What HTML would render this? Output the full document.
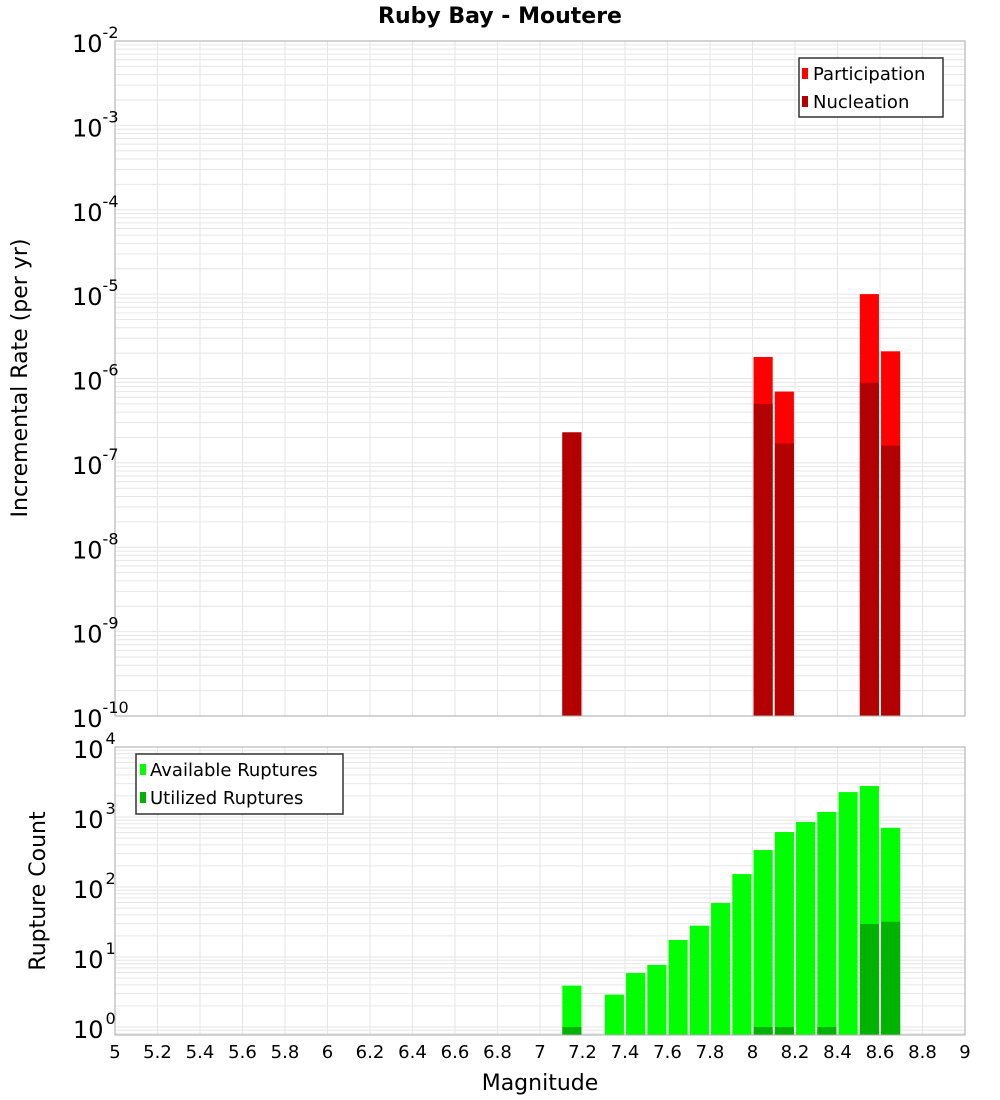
<!DOCTYPE html>
<html><head><meta charset="utf-8"><style>
body{margin:0;background:#fff;}
svg{display:block;font-family:"DejaVu Sans","Liberation Sans",sans-serif;}
</style></head><body>
<svg id="chart" width="1000" height="1100"></svg>
<script>
const magCenters=[7.15,8.05,8.15,8.55,8.65];
const participation=[2.3e-7,1.8e-6,7e-7,1.0e-5,2.1e-6];
const nucleation=[2.3e-7,5e-7,1.7e-7,8.9e-7,1.6e-7];
const countMags=[7.15,7.35,7.45,7.55,7.65,7.75,7.85,7.95,8.05,8.15,8.25,8.35,8.45,8.55,8.65];
const available=[3.9,2.9,5.9,7.7,17.5,28,59,153,337,610,850,1180,2270,2770,700];
const utilized=[1,0,0,0,0,0,0,0,1,1,0,1,0,29.6,32];
const xTicks=[5,5.2,5.4,5.6,5.8,6,6.2,6.4,6.6,6.8,7,7.2,7.4,7.6,7.8,8,8.2,8.4,8.6,8.8,9];
const topExp=[-10,-9,-8,-7,-6,-5,-4,-3,-2];
const botExp=[0,1,2,3,4];

const NS="http://www.w3.org/2000/svg";
const svg=document.getElementById('chart');
function mk(tag,attrs,parent,text){const e=document.createElementNS(NS,tag);for(const k in attrs)e.setAttribute(k,attrs[k]);if(text!==undefined)e.textContent=text;(parent||svg).appendChild(e);return e;}
const X0=115,X1=965;
const xs=m=>X0+(m-5)/4*(X1-X0);
const T0=41,T1=716;
const yTop=v=>T0+(-2-Math.log10(v))*(T1-T0)/8;
const B0=747,B1=1035,BD=70;
const yBot=v=>B0+(4-Math.log10(v))*BD;
const BW=0.09;

function grid(top,bot,yfun,lo,hi,g){
  for(const t of xTicks){const l=mk('line',{x1:xs(t),x2:xs(t),y1:top,y2:bot,stroke:'#e6e6e6','stroke-width':1},g);}
  for(let e=lo;e<hi;e++){for(let k=1;k<10;k++){const y=yfun(k*Math.pow(10,e));if(y<top-0.5||y>bot+0.5)continue;mk('line',{x1:X0,x2:X1,y1:y,y2:y,stroke:'#e6e6e6','stroke-width':1},g);}}
}
// title
const title=mk('text',{x:500,y:23,'text-anchor':'middle','font-size':22,'font-weight':'bold'},svg,'Ruby Bay - Moutere');


// top plot
const gTop=mk('g',{});

grid(T0,T1,yTop,-10,-2,gTop);
magCenters.forEach((m,i)=>{
  const x=xs(m-BW/2),w=xs(m+BW/2)-x;
  const p=mk('rect',{x:x,y:yTop(participation[i]),width:w,height:T1-yTop(participation[i]),fill:'#ff0000'},gTop);
  
  const n=mk('rect',{x:x,y:yTop(nucleation[i]),width:w,height:T1-yTop(nucleation[i]),fill:'#b30000'},gTop);
  
});
mk('rect',{x:X0,y:T0,width:X1-X0,height:T1-T0,fill:'none',stroke:'#aaa','stroke-width':1},gTop);
topExp.forEach(e=>{
  const y=yTop(Math.pow(10,e));
  const t=mk('text',{x:72,y:y+11,'font-size':24},gTop);
  
  mk('tspan',{},t,'10');mk('tspan',{dy:-14,'font-size':16},t,String(e));
});
const yt=mk('text',{x:27,y:378,'text-anchor':'middle','font-size':22,transform:'rotate(-90 27 378)'},gTop,'Incremental Rate (per yr)');

const lg=mk('g',{});
mk('rect',{x:799,y:58,width:144,height:59,fill:'#fff',stroke:'#333','stroke-width':1.5},lg);
mk('rect',{x:802,y:68,width:6,height:11,fill:'#ff0000'},lg);
mk('text',{x:813,y:80,'font-size':18},lg,'Participation');
mk('rect',{x:802,y:96,width:6,height:11,fill:'#b30000'},lg);
mk('text',{x:813,y:108,'font-size':18},lg,'Nucleation');

// bottom plot
const gB=mk('g',{});

grid(B0,B1,yBot,-1,4,gB);
countMags.forEach((m,i)=>{
  const x=xs(m-BW/2),w=xs(m+BW/2)-x;
  const a=mk('rect',{x:x,y:yBot(available[i]),width:w,height:B1-yBot(available[i]),fill:'#00ff00'},gB);
  
  if(utilized[i]>0){
    const u=mk('rect',{x:x,y:yBot(utilized[i]),width:w,height:B1-yBot(utilized[i]),fill:'#00b300'},gB);
    
  }
});
mk('rect',{x:X0,y:B0,width:X1-X0,height:B1-B0,fill:'none',stroke:'#aaa','stroke-width':1},gB);
botExp.forEach(e=>{
  const y=yBot(Math.pow(10,e));
  const t=mk('text',{x:73,y:y+11,'font-size':24},gB);
  
  mk('tspan',{},t,'10');mk('tspan',{dx:2,dy:-14,'font-size':16},t,String(e));
});
xTicks.forEach(t=>{
  const l=mk('text',{x:xs(t),y:1058,'text-anchor':'middle','font-size':18},gB,String(t));
  
});
const bt=mk('text',{x:45,y:891,'text-anchor':'middle','font-size':22,transform:'rotate(-90 45 891)'},gB,'Rupture Count');

const xt=mk('text',{x:540,y:1090,'text-anchor':'middle','font-size':22},gB,'Magnitude');

const lb=mk('g',{});
mk('rect',{x:136,y:754,width:207,height:60,fill:'#fff',stroke:'#333','stroke-width':1.5},lb);
mk('rect',{x:140,y:764,width:6,height:11,fill:'#00ff00'},lb);
mk('text',{x:150,y:776,'font-size':18},lb,'Available Ruptures');
mk('rect',{x:140,y:792,width:6,height:11,fill:'#00b300'},lb);
mk('text',{x:150,y:804,'font-size':18},lb,'Utilized Ruptures');
</script>
</body></html>
